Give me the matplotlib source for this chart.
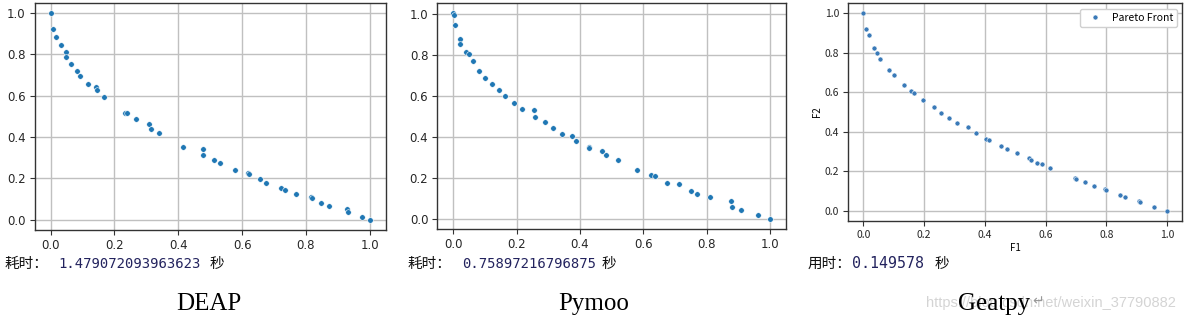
import matplotlib
matplotlib.use("Agg")
import matplotlib.pyplot as plt

# ---- data ----
deap_f1 = [0.0, 0.006, 0.017, 0.033, 0.047, 0.047, 0.063, 0.083, 0.092, 0.118, 0.141, 0.144,
           0.168, 0.234, 0.238, 0.269, 0.309, 0.315, 0.338, 0.416, 0.476, 0.476, 0.513, 0.531,
           0.577, 0.619, 0.621, 0.657, 0.676, 0.722, 0.735, 0.768, 0.816, 0.818, 0.847, 0.873,
           0.929, 0.933, 0.975, 1.0]
deap_f2 = [1.0, 0.924, 0.884, 0.844, 0.810, 0.787, 0.754, 0.718, 0.697, 0.657, 0.641, 0.626,
           0.596, 0.516, 0.515, 0.485, 0.461, 0.440, 0.419, 0.354, 0.340, 0.312, 0.288, 0.274,
           0.242, 0.224, 0.221, 0.196, 0.177, 0.151, 0.142, 0.126, 0.112, 0.107, 0.081, 0.066,
           0.052, 0.035, 0.014, 0.0]

pymoo_f1 = [0.0, 0.004, 0.007, 0.022, 0.022, 0.039, 0.049, 0.062, 0.081, 0.101, 0.121, 0.144,
            0.164, 0.192, 0.217, 0.256, 0.259, 0.291, 0.314, 0.344, 0.376, 0.387, 0.428, 0.430,
            0.468, 0.482, 0.519, 0.580, 0.624, 0.637, 0.674, 0.712, 0.750, 0.770, 0.809, 0.875,
            0.879, 0.908, 0.961, 1.0]
pymoo_f2 = [1.003, 0.993, 0.945, 0.878, 0.852, 0.813, 0.802, 0.771, 0.720, 0.685, 0.659, 0.629,
            0.598, 0.564, 0.538, 0.533, 0.498, 0.472, 0.442, 0.416, 0.402, 0.381, 0.350, 0.346,
            0.330, 0.311, 0.285, 0.239, 0.213, 0.208, 0.177, 0.172, 0.137, 0.122, 0.107, 0.086,
            0.060, 0.046, 0.020, 0.0]

geatpy_f1 = [0.0, 0.008, 0.018, 0.034, 0.044, 0.056, 0.085, 0.100, 0.135, 0.158, 0.165, 0.195,
             0.231, 0.256, 0.282, 0.309, 0.345, 0.371, 0.405, 0.414, 0.452, 0.473, 0.505, 0.544,
             0.553, 0.573, 0.587, 0.613, 0.695, 0.700, 0.728, 0.759, 0.796, 0.799, 0.846, 0.861,
             0.908, 0.911, 0.956, 1.0]
geatpy_f2 = [1.0, 0.919, 0.889, 0.823, 0.797, 0.767, 0.713, 0.686, 0.637, 0.606, 0.595, 0.561,
             0.525, 0.495, 0.470, 0.444, 0.424, 0.394, 0.365, 0.358, 0.328, 0.313, 0.292, 0.267,
             0.257, 0.242, 0.236, 0.216, 0.167, 0.162, 0.147, 0.127, 0.111, 0.106, 0.081, 0.071,
             0.051, 0.046, 0.020, 0.0]

ticks = [0.0, 0.2, 0.4, 0.6, 0.8, 1.0]
tick_labels = ["0.0", "0.2", "0.4", "0.6", "0.8", "1.0"]
time_labels = ["耗时：", "耗时：", "用时："]
time_values = ["1.479072093963623", "0.75897216796875", "0.149578"]
captions = ["DEAP", "Pymoo", "Geatpy"]
legend_label = "Pareto Front"
watermark = "https://blog.csdn.net/weixin_37790882"

W, H = 1185, 323
fig = plt.figure(figsize=(W / 100, H / 100), dpi=100)
fig.patch.set_facecolor("white")

def px_rect(l, t, r, b):
    return [l / W, (H - b) / H, (r - l) / W, (b - t) / H]

blue = "#1f77b4"
cjk = ["Noto Sans CJK SC", "DejaVu Sans"]

def style(ax, fam, fs):
    ax.grid(True, color="#c0c0c0", linewidth=1.0)
    ax.set_axisbelow(True)
    for s in ax.spines.values():
        s.set_color("#333333")
        s.set_linewidth(1.0)
    ax.set_xticks(ticks)
    ax.set_yticks(ticks)
    ax.set_xticklabels(tick_labels, family=fam, fontsize=fs, color="#262626")
    ax.set_yticklabels(tick_labels, family=fam, fontsize=fs, color="#262626")
    ax.tick_params(length=3.5, width=0.8, color="#333333", pad=3)

ax1 = fig.add_axes(px_rect(34.7, 2.7, 385.7, 230))
ax1.scatter(deap_f1, deap_f2, s=16, c=blue, edgecolors="white", linewidths=0.4)
style(ax1, "DejaVu Sans", 8.5)

ax2 = fig.add_axes(px_rect(437.3, 2.7, 786, 229.3))
ax2.scatter(pymoo_f1, pymoo_f2, s=16, c=blue, edgecolors="white", linewidths=0.4)
style(ax2, "DejaVu Sans", 8.5)

ax3 = fig.add_axes(px_rect(848.3, 3.3, 1182.3, 220.7))
ax3.plot(geatpy_f1, geatpy_f2, linestyle="none", marker="o", markersize=3.6,
         color="#3a7ab8", markeredgecolor="white", markeredgewidth=0.4, label=legend_label)
style(ax3, cjk, 7.5)
ax3.set_xlabel("F1", family=cjk, fontsize=7, labelpad=2)
ax3.set_ylabel("F2", family=cjk, fontsize=7, labelpad=2)
ax3.legend(loc="upper right", prop={"family": cjk, "size": 7.5}, framealpha=1,
           edgecolor="#d0d0d0", handletextpad=0.6, borderpad=0.4)

def fx(x):
    return x / W

def fy(y):
    return (H - y) / H

# time texts
label_x = [4, 407, 808]
num_x = [58, 462, 852]
sec_x = [210, 602, 935]
num_size = [10, 10, 10.8]
for lx, nx, sx, lab, val, ns in zip(label_x, num_x, sec_x, time_labels, time_values, num_size):
    fig.text(fx(lx), fy(264), lab, family=cjk, fontsize=10.5, va="center", ha="left", color="#111111")
    fig.text(fx(nx), fy(264), val, family="DejaVu Sans Mono", fontsize=ns, va="center",
             ha="left", color="#23235e")
    fig.text(fx(sx), fy(264), "秒", family=cjk, fontsize=10.5, va="center", ha="left", color="#111111")

# watermark (overlaps the caption in the original screenshot)
fig.text(fx(1176), fy(303), watermark, family="Liberation Sans", fontsize=10.5,
         color="#d4d4d4", va="center", ha="right")

# captions
cap_x = [209, 593.5, 994]
for cx, cap in zip(cap_x, captions):
    fig.text(fx(cx), fy(304), cap, family="Liberation Serif", fontsize=18,
             va="center", ha="center", color="black")
fig.text(fx(1032), fy(301), "↵", family="DejaVu Sans", fontsize=10, va="center",
         ha="left", color="#999999")

fig.savefig("out.png", dpi=100, facecolor="white")
